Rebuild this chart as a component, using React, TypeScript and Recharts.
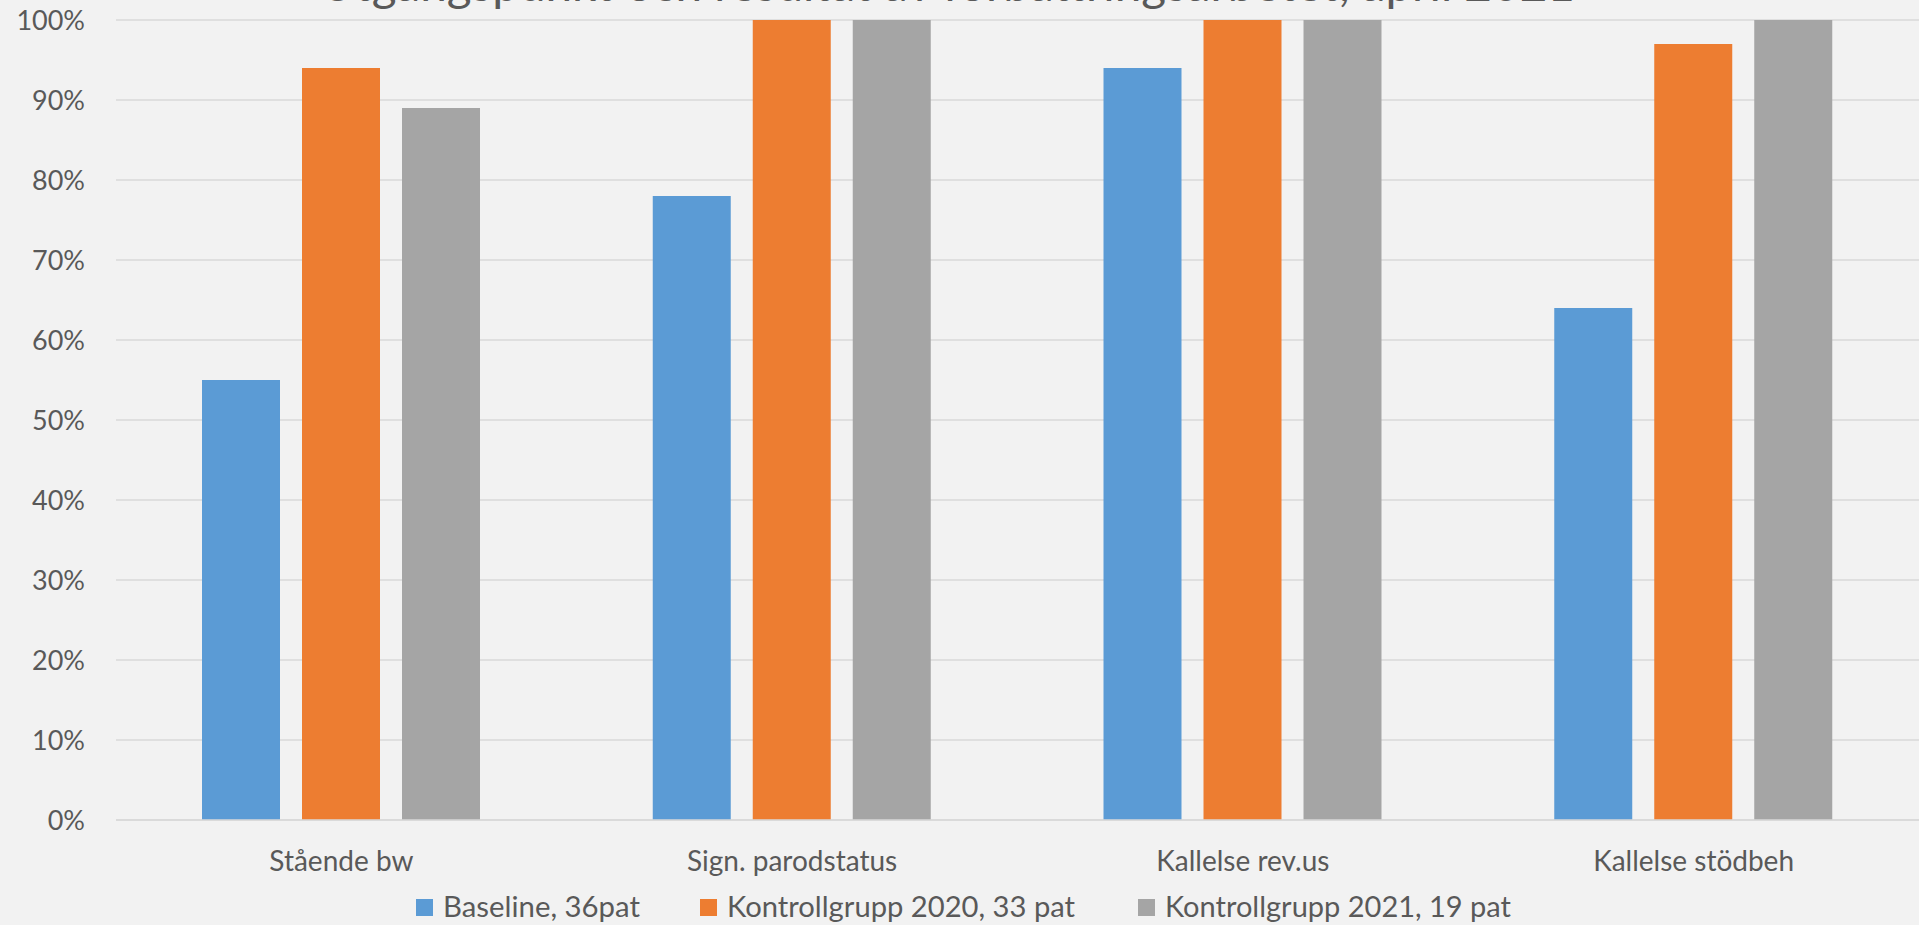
import { BarChart, Bar, XAxis, YAxis, CartesianGrid } from "recharts";

const categories = ["Stående bw", "Sign. parodstatus", "Kallelse rev.us", "Kallelse stödbeh"];
const baseline = [0.55, 0.78, 0.94, 0.64];
const kontroll2020 = [0.94, 1.0, 1.0, 0.97];
const kontroll2021 = [0.89, 1.0, 1.0, 1.0];
const yTicks = [0, 0.1, 0.2, 0.3, 0.4, 0.5, 0.6, 0.7, 0.8, 0.9, 1.0];

const title = "Utgångspunkt och resultat av förbättringsarbetet, april 2021";

const series = [
    { key: "baseline", name: "Baseline, 36pat", color: "#5B9BD5", values: baseline },
    { key: "k2020", name: "Kontrollgrupp 2020, 33 pat", color: "#ED7D31", values: kontroll2020 },
    { key: "k2021", name: "Kontrollgrupp 2021, 19 pat", color: "#A5A5A5", values: kontroll2021 },
];

const chartData = categories.map((category, i) => {
    const row: Record<string, string | number> = { category };
    series.forEach((s) => {
        row[s.key] = s.values[i];
    });
    return row;
});

const W = 1919;
const H = 925;
const TEXT = "#595959";
const FONT = "Lato, 'Open Sans', sans-serif";

// legend layout (x of the swatch, width of the label)
const legendPos = [
    { x: 416, w: 197 },
    { x: 700, w: 348 },
    { x: 1138, w: 346 },
];

export default function App() {
    return (
        <div
            style={{
                position: "fixed",
                left: 0,
                top: 0,
                width: W,
                height: H,
                background: "#F2F2F2",
                overflow: "hidden",
                fontFamily: FONT,
            }}
        >
            <BarChart
                width={W}
                height={H}
                data={chartData}
                margin={{ top: 20, right: 0, bottom: 45, left: 0 }}
                barSize={78}
                barGap={22}
            >
                <CartesianGrid vertical={false} stroke="#D9D9D9" strokeWidth={1.5} />
                <XAxis
                    dataKey="category"
                    height={60}
                    axisLine={{ stroke: "#D9D9D9", strokeWidth: 1.5 }}
                    tickLine={false}
                    tickSize={0}
                    tickMargin={31}
                    tick={{ fill: TEXT, fontSize: 28, fontFamily: FONT }}
                />
                <YAxis
                    width={116}
                    domain={[0, 1]}
                    ticks={yTicks}
                    interval={0}
                    axisLine={false}
                    tickLine={false}
                    tickSize={0}
                    tickMargin={31}
                    tickFormatter={(v) => `${Math.round(v * 100)}%`}
                    tick={{ fill: TEXT, fontSize: 27, fontFamily: FONT }}
                />
                {series.map((s) => (
                    <Bar key={s.key} dataKey={s.key} name={s.name} fill={s.color} isAnimationActive={false} />
                ))}
            </BarChart>

            <svg width={W} height={H} style={{ position: "absolute", left: 0, top: 0, pointerEvents: "none" }}>
                <text
                    x={320}
                    y={0.5}
                    fontSize={46}
                    fill={TEXT}
                    fontFamily={FONT}
                    textLength={1255}
                    lengthAdjust="spacingAndGlyphs"
                >
                    {title}
                </text>
                {series.map((s, i) => (
                    <g key={s.key}>
                        <rect x={legendPos[i].x} y={899} width={17} height={17} fill={s.color} />
                        <text
                            x={legendPos[i].x + 27}
                            y={917}
                            fontSize={28}
                            fill={TEXT}
                            fontFamily={FONT}
                            textLength={legendPos[i].w}
                            lengthAdjust="spacingAndGlyphs"
                        >
                            {s.name}
                        </text>
                    </g>
                ))}
            </svg>
        </div>
    );
}
